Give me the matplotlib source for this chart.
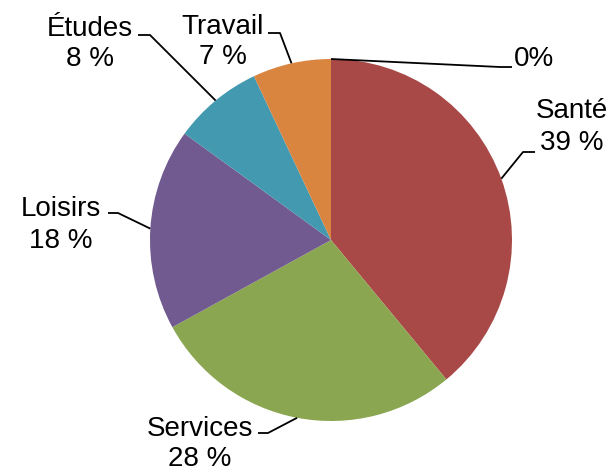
import numpy as np
import matplotlib
matplotlib.use("Agg")
from matplotlib import pyplot as plt

plt.rcParams['font.family'] = ['Liberation Sans', 'DejaVu Sans']

# Data
labels = ["Santé", "Services", "Loisirs", "Études", "Travail", ""]
values = [39, 28, 18, 8, 7, 0]
pct_text = ["39 %", "28 %", "18 %", "8 %", "7 %", "0%"]
colors = ["#A84947", "#8BA650", "#715A8F", "#4399AF", "#D9843F", "#C0C0C0"]

W, H = 611, 472
fig = plt.figure(figsize=(W / 100, H / 100), dpi=100)
ax = fig.add_axes([0, 0, 1, 1])

cx, cy, r = 331, H - 240, 181
wedges, _ = ax.pie(values, colors=colors, startangle=90, counterclock=False,
                   center=(cx, cy), radius=r, frame=True,
                   wedgeprops=dict(linewidth=0))
ax.set_xlim(0, W)
ax.set_ylim(0, H)
ax.set_aspect('equal')
ax.axis('off')

# leader elbows, line ends and text centres in pixel coords (y from top)
elbows = [(523, 152), (268, 433), (118, 213), (150, 35), (280, 33), (500, 67)]
ends = [(535, 152), (258, 433), (108, 213), (138, 35), (268, 33), (512, 67)]
text_pos = [(572, 127), (200, 444), (61, 225), (90, 44), (223, 42), (534, 59)]

for i, w in enumerate(wedges):
    mid = np.deg2rad((w.theta1 + w.theta2) / 2)
    p0 = (cx + r * np.cos(mid), cy + r * np.sin(mid))
    xs = [p0[0], elbows[i][0], ends[i][0]]
    ys = [p0[1], H - elbows[i][1], H - ends[i][1]]
    ax.plot(xs, ys, color="black", lw=1.3, solid_capstyle='butt')
    txt = pct_text[i] if labels[i] == "" else labels[i] + "\n" + pct_text[i]
    ax.text(text_pos[i][0], H - text_pos[i][1], txt, ha='center', va='center',
            fontsize=20, linespacing=1.25)

fig.savefig("out.png", dpi=100)
